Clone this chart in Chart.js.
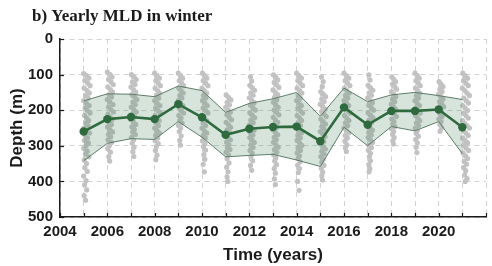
<!DOCTYPE html>
<html><head><meta charset="utf-8">
<script src="https://cdn.jsdelivr.net/npm/chart.js@4/dist/chart.umd.min.js"></script>
<style>html,body{margin:0;padding:0;background:#fff}#w{width:492px;height:266px;position:relative}</style>
</head><body><div id="w"><canvas id="c"></canvas></div>
<script>
const titleText = 'b) Yearly MLD in winter';
const years = [2005,2006,2007,2008,2009,2010,2011,2012,2013,2014,2015,2016,2017,2018,2019,2020,2021];
const meanMLD  = [260,225,219,225,183,220,269,252,247,246,287,192,241,202,202,198,248];
const upperMLD = [174,154,155,162,132,145,206,181,168,150,217,138,176,157,150,159,170];
const lowerMLD = [342,293,280,282,232,276,331,327,324,340,358,248,300,246,258,232,322];
const xTickLabels = ['2004','2006','2008','2010','2012','2014','2016','2018','2020'];
const yTickLabels = ['0','100','200','300','400','500'];

// individual profiles: [offset within year, depth]
const d2005 = [[0.00,97],[0.12,103],[0.22,110],[0.05,117],[0.17,124],[0.27,131],[0.02,138],[0.14,145],[0.24,152],[0.08,159],[0.19,166],[0.00,173],[0.11,180],[0.23,187],[0.06,194],[0.16,201],[0.27,208],[0.03,215],[0.13,222],[0.21,229],[0.08,236],[0.18,243],[0.01,250],[0.12,257],[0.25,264],[0.06,271],[0.16,278],[0.03,285],[0.20,292],[0.10,299],[0.00,307],[0.15,315],[0.07,323],[0.22,331],[0.02,340],[0.12,350],[0.05,362],[0.15,372],[0.00,385],[0.10,398],[0.04,410],[0.13,424],[0.02,440],[0.08,453]];
const d2006 = [[0.00,93],[0.12,100],[0.20,107],[0.05,114],[0.16,121],[0.25,128],[0.02,135],[0.13,142],[0.22,149],[0.07,156],[0.18,163],[0.00,170],[0.11,177],[0.24,184],[0.05,191],[0.15,198],[0.26,205],[0.03,212],[0.12,219],[0.20,226],[0.07,233],[0.17,240],[0.01,247],[0.10,254],[0.22,261],[0.05,268],[0.14,275],[0.03,283],[0.18,291],[0.09,299],[0.02,308],[0.13,318],[0.06,330],[0.10,343]];
const d2007 = [[0.02,100],[0.13,107],[0.22,114],[0.06,121],[0.17,128],[0.00,135],[0.10,142],[0.20,149],[0.04,156],[0.15,163],[0.25,170],[0.08,177],[0.18,184],[0.01,191],[0.12,198],[0.22,205],[0.05,212],[0.15,219],[0.00,226],[0.10,233],[0.20,240],[0.04,247],[0.14,254],[0.07,261],[0.18,268],[0.02,276],[0.11,284],[0.05,293],[0.13,304],[0.08,317],[0.12,330]];
const d2008 = [[0.00,96],[0.10,103],[0.20,110],[0.05,117],[0.15,124],[0.24,131],[0.02,138],[0.12,145],[0.21,152],[0.07,159],[0.17,166],[0.00,173],[0.10,180],[0.22,187],[0.04,194],[0.14,201],[0.24,208],[0.02,215],[0.11,222],[0.19,229],[0.06,236],[0.16,243],[0.00,250],[0.10,257],[0.20,264],[0.04,271],[0.13,278],[0.02,286],[0.15,294],[0.07,302],[0.03,313],[0.10,326],[0.05,339]];
const d2009 = [[0.00,96],[0.10,103],[0.18,110],[0.04,117],[0.14,124],[0.22,131],[0.02,138],[0.11,145],[0.20,152],[0.06,159],[0.15,166],[0.00,173],[0.09,180],[0.19,187],[0.04,194],[0.13,201],[0.22,208],[0.02,215],[0.11,222],[0.06,229],[0.16,236],[0.01,243],[0.10,250],[0.04,260],[0.12,272],[0.06,285],[0.09,298]];
const d2010 = [[0.02,96],[0.12,103],[0.20,110],[0.05,117],[0.15,124],[0.25,131],[0.00,138],[0.10,145],[0.20,152],[0.06,159],[0.16,166],[0.02,173],[0.12,180],[0.22,187],[0.05,194],[0.15,201],[0.25,208],[0.01,215],[0.10,222],[0.20,229],[0.05,236],[0.15,243],[0.00,250],[0.10,257],[0.20,264],[0.05,271],[0.14,278],[0.02,286],[0.12,294],[0.06,302],[0.15,312],[0.08,325],[0.12,338],[0.05,352],[0.10,373]];
const d2011 = [[0.02,157],[0.12,164],[0.22,171],[0.06,178],[0.16,185],[0.00,192],[0.10,199],[0.20,206],[0.05,213],[0.15,220],[0.25,227],[0.02,234],[0.12,241],[0.21,248],[0.06,255],[0.16,262],[0.00,269],[0.10,276],[0.20,283],[0.04,290],[0.14,297],[0.08,304],[0.18,311],[0.02,318],[0.12,326],[0.06,336],[0.14,348],[0.04,360],[0.10,373],[0.06,387],[0.09,400]];
const d2012 = [[0.05,106],[0.10,118],[0.02,130],[0.13,137],[0.22,144],[0.06,151],[0.16,158],[0.00,165],[0.10,172],[0.20,179],[0.05,186],[0.15,193],[0.25,200],[0.02,207],[0.12,214],[0.22,221],[0.06,228],[0.16,235],[0.00,242],[0.10,249],[0.20,256],[0.05,263],[0.15,270],[0.02,277],[0.12,284],[0.21,291],[0.06,298],[0.16,305],[0.03,313],[0.12,321],[0.07,330],[0.14,342],[0.05,355],[0.10,369]];
const d2013 = [[0.02,101],[0.12,108],[0.20,115],[0.05,122],[0.15,129],[0.25,136],[0.00,143],[0.10,150],[0.20,157],[0.06,164],[0.16,171],[0.02,178],[0.12,185],[0.22,192],[0.05,199],[0.15,206],[0.25,213],[0.01,220],[0.10,227],[0.20,234],[0.05,241],[0.15,248],[0.00,255],[0.10,262],[0.20,269],[0.05,276],[0.14,283],[0.02,290],[0.12,297],[0.22,304],[0.06,311],[0.16,318],[0.03,326],[0.12,334],[0.07,343],[0.15,353],[0.05,364],[0.10,377],[0.06,393],[0.10,409]];
const d2014 = [[0.00,96],[0.10,103],[0.20,110],[0.05,117],[0.15,124],[0.25,131],[0.02,138],[0.12,145],[0.22,152],[0.06,159],[0.16,166],[0.00,173],[0.10,180],[0.20,187],[0.05,194],[0.15,201],[0.25,208],[0.02,215],[0.12,222],[0.21,229],[0.06,236],[0.16,243],[0.00,250],[0.10,257],[0.20,264],[0.05,271],[0.15,278],[0.02,285],[0.12,292],[0.22,299],[0.06,306],[0.16,313],[0.02,320],[0.12,328],[0.06,336],[0.15,345],[0.04,354],[0.12,364],[0.07,375],[0.04,400],[0.10,425]];
const d2015 = [[0.05,106],[0.12,120],[0.08,134],[0.02,148],[0.12,155],[0.22,162],[0.06,169],[0.16,176],[0.00,183],[0.10,190],[0.20,197],[0.05,204],[0.15,211],[0.25,218],[0.02,225],[0.12,232],[0.22,239],[0.06,246],[0.16,253],[0.00,260],[0.10,267],[0.20,274],[0.05,281],[0.15,288],[0.02,295],[0.12,302],[0.21,309],[0.06,316],[0.16,323],[0.02,330],[0.12,338],[0.06,346],[0.15,355],[0.04,364],[0.10,374],[0.06,384],[0.09,396]];
const d2016 = [[0.00,96],[0.10,103],[0.20,110],[0.05,117],[0.15,124],[0.25,131],[0.02,138],[0.12,145],[0.22,152],[0.06,159],[0.16,166],[0.00,173],[0.10,180],[0.20,187],[0.05,194],[0.15,201],[0.25,208],[0.02,215],[0.12,222],[0.21,229],[0.06,236],[0.16,243],[0.00,250],[0.10,257],[0.20,264],[0.05,271],[0.14,278],[0.04,287],[0.12,297],[0.06,306],[0.10,316]];
const d2017 = [[0.05,101],[0.10,115],[0.02,130],[0.12,137],[0.22,144],[0.06,151],[0.16,158],[0.00,165],[0.10,172],[0.20,179],[0.05,186],[0.15,193],[0.25,200],[0.02,207],[0.12,214],[0.22,221],[0.06,228],[0.16,235],[0.00,242],[0.10,249],[0.20,256],[0.05,263],[0.15,270],[0.02,277],[0.12,284],[0.21,291],[0.06,298],[0.16,305],[0.03,313],[0.12,321],[0.07,330],[0.12,342],[0.05,353],[0.09,364],[0.06,373]];
const d2018 = [[0.02,106],[0.10,113],[0.18,120],[0.05,127],[0.14,134],[0.22,141],[0.01,148],[0.10,155],[0.19,162],[0.05,169],[0.14,176],[0.00,183],[0.09,190],[0.18,197],[0.04,204],[0.13,211],[0.21,218],[0.02,225],[0.11,232],[0.06,239],[0.15,246],[0.01,253],[0.10,260],[0.05,268],[0.12,277],[0.06,286],[0.09,295]];
const d2019 = [[0.00,96],[0.10,103],[0.18,110],[0.04,117],[0.14,124],[0.22,131],[0.02,138],[0.11,145],[0.20,152],[0.06,159],[0.15,166],[0.00,173],[0.09,180],[0.19,187],[0.04,194],[0.13,201],[0.22,208],[0.02,215],[0.11,222],[0.20,229],[0.06,236],[0.15,243],[0.01,250],[0.10,257],[0.05,265],[0.14,273],[0.03,282],[0.10,292],[0.05,304],[0.08,319]];
const d2020 = [[0.02,120],[0.10,127],[0.18,134],[0.05,141],[0.14,148],[0.00,155],[0.09,162],[0.18,169],[0.04,176],[0.13,183],[0.21,190],[0.02,197],[0.11,204],[0.06,211],[0.15,218],[0.01,225],[0.10,232],[0.05,240],[0.12,249],[0.06,259]];
const d2021 = [[0.02,96],[0.12,103],[0.22,110],[0.05,117],[0.15,124],[0.25,131],[0.00,138],[0.10,145],[0.20,152],[0.30,159],[0.06,166],[0.16,173],[0.26,180],[0.02,187],[0.12,194],[0.22,201],[0.05,208],[0.15,215],[0.25,222],[0.01,229],[0.10,236],[0.20,243],[0.30,250],[0.05,257],[0.15,264],[0.25,271],[0.02,278],[0.12,285],[0.22,292],[0.06,299],[0.16,306],[0.26,313],[0.03,320],[0.13,328],[0.22,336],[0.08,344],[0.18,352],[0.05,361],[0.14,370],[0.10,382],[0.20,392],[0.12,400]];
const profilesByYear = [d2005,d2006,d2007,d2008,d2009,d2010,d2011,d2012,d2013,d2014,d2015,d2016,d2017,d2018,d2019,d2020,d2021];

const scatterPts = [];
profilesByYear.forEach((arr, i) => arr.forEach(p => scatterPts.push({x: years[i] + p[0], y: p[1]})));
const toXY = arr => arr.map((v, i) => ({x: years[i], y: v}));

const SANS = '"Liberation Sans", Arial, sans-serif';
const INK = '#1a1a1a';

const titlePlugin = {
  id: 'figTitle',
  afterDraw(chart) {
    const ctx = chart.ctx;
    ctx.save();
    ctx.font = 'bold 17px "Liberation Serif", "Times New Roman", serif';
    ctx.fillStyle = INK;
    ctx.textBaseline = 'alphabetic';
    ctx.textAlign = 'left';
    ctx.fillText(titleText, 32, 21);
    ctx.restore();
  }
};
const innerTicks = {
  id: 'innerTicks',
  afterDatasetsDraw(chart) {
    const {ctx, chartArea: a, scales: {x, y}} = chart;
    ctx.save();
    ctx.strokeStyle = INK;
    ctx.lineWidth = 1.2;
    x.ticks.forEach(t => {
      const px = Math.round(x.getPixelForValue(t.value)) + 0.5;
      ctx.beginPath(); ctx.moveTo(px, a.bottom); ctx.lineTo(px, a.bottom - 4); ctx.stroke();
    });
    y.ticks.forEach(t => {
      const py = Math.round(y.getPixelForValue(t.value)) + 0.5;
      ctx.beginPath(); ctx.moveTo(a.left, py); ctx.lineTo(a.left + 4, py); ctx.stroke();
    });
    ctx.restore();
  }
};

new Chart(document.getElementById('c'), {
  type: 'scatter',
  data: {
    datasets: [
      { type: 'scatter', data: scatterPts, pointRadius: 2.6, pointHoverRadius: 2.6,
        backgroundColor: '#c2c2c2', borderWidth: 0, order: 3 },
      { type: 'line', data: toXY(upperMLD), borderColor: '#5d7c66', borderWidth: 1,
        pointRadius: 0, fill: false, order: 2 },
      { type: 'line', data: toXY(lowerMLD), borderColor: '#5d7c66', borderWidth: 1,
        pointRadius: 0, fill: '-1', backgroundColor: 'rgba(70,130,90,0.22)', order: 2 },
      { type: 'line', data: toXY(meanMLD), borderColor: '#2f6a3f', borderWidth: 2.6,
        pointRadius: 4.2, pointBackgroundColor: '#2f6a3f', pointBorderColor: '#2f6a3f',
        pointBorderWidth: 0, fill: false, order: 1 }
    ]
  },
  options: {
    responsive: true, maintainAspectRatio: false, animation: false,
    layout: { padding: { top: 39, left: 0, right: 0, bottom: 0 } },
    plugins: { legend: { display: false }, tooltip: { enabled: false }, title: { display: false } },
    scales: {
      x: {
        type: 'linear', min: 2004, max: 2022,
        afterFit(s) { s.height = 49; },
        ticks: { stepSize: 1, autoSkip: false, maxRotation: 0, padding: 6, color: INK,
          font: { family: SANS, size: 15, weight: 'bold' },
          callback: v => xTickLabels.includes(String(v)) ? String(v) : '' },
        grid: { color: '#d2d2d2', lineWidth: 1, drawTicks: false },
        border: { color: INK, width: 1.5, dash: [5, 4] },
        title: { display: true, text: 'Time (years)', color: INK, padding: { top: 0, bottom: 0 },
          font: { family: SANS, size: 17, weight: 'bold' } }
      },
      y: {
        min: 0, max: 500, reverse: true,
        afterFit(s) { s.width = 60; },
        ticks: { stepSize: 100, padding: 7, color: INK,
          font: { family: SANS, size: 15, weight: 'bold' },
          callback: v => yTickLabels.includes(String(v)) ? String(v) : '' },
        grid: { color: '#d2d2d2', lineWidth: 1, drawTicks: false },
        border: { color: INK, width: 1.5, dash: [5, 4] },
        title: { display: true, text: 'Depth (m)', color: INK, padding: { top: 7, bottom: 0 },
          font: { family: SANS, size: 17, weight: 'bold' } }
      }
    }
  },
  plugins: [titlePlugin, innerTicks]
});
</script>
</body></html>
